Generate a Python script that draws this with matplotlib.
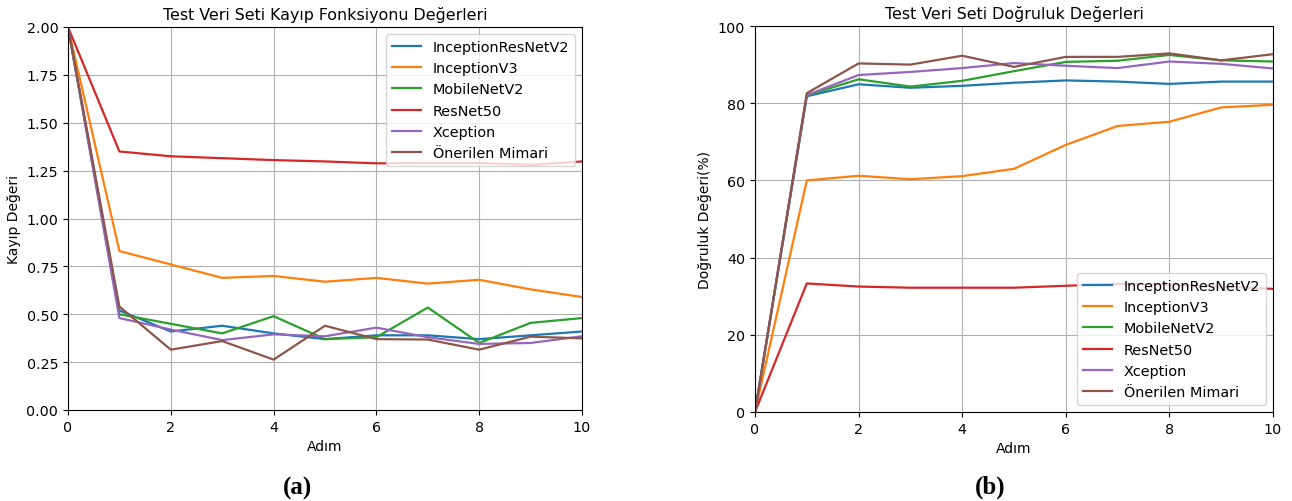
import matplotlib.pyplot as plt

steps = list(range(11))
models = ['InceptionResNetV2', 'InceptionV3', 'MobileNetV2', 'ResNet50', 'Xception', 'Önerilen Mimari']

# kayip (loss) degerleri
loss_incresnet = [2.0, 0.52, 0.41, 0.44, 0.40, 0.37, 0.39, 0.39, 0.37, 0.39, 0.41]
loss_incv3 = [2.0, 0.83, 0.76, 0.69, 0.70, 0.67, 0.69, 0.66, 0.68, 0.63, 0.59]
loss_mobilenet = [2.0, 0.50, 0.45, 0.40, 0.49, 0.37, 0.38, 0.535, 0.35, 0.455, 0.48]
loss_resnet = [2.0, 1.35, 1.325, 1.315, 1.305, 1.298, 1.288, 1.29, 1.29, 1.28, 1.298]
loss_xception = [2.0, 0.48, 0.42, 0.365, 0.395, 0.385, 0.43, 0.38, 0.345, 0.35, 0.385]
loss_onerilen = [2.0, 0.54, 0.315, 0.36, 0.263, 0.44, 0.37, 0.368, 0.315, 0.383, 0.374]

# dogruluk (accuracy) degerleri
acc_incresnet = [0, 81.8, 84.9, 84.0, 84.5, 85.3, 85.9, 85.6, 85.0, 85.6, 85.6]
acc_incv3 = [0, 60.0, 61.2, 60.3, 61.1, 63.0, 69.2, 74.1, 75.2, 78.9, 79.6]
acc_mobilenet = [0, 82.0, 86.2, 84.3, 85.8, 88.3, 90.7, 91.0, 92.5, 91.1, 90.8]
acc_resnet = [0, 33.3, 32.5, 32.2, 32.2, 32.2, 32.7, 33.2, 33.0, 32.5, 31.9]
acc_xception = [0, 82.1, 87.3, 88.1, 89.1, 90.4, 89.7, 89.1, 90.8, 90.2, 89.0]
acc_onerilen = [0, 82.6, 90.3, 90.0, 92.3, 89.4, 92.0, 92.0, 92.9, 91.1, 92.7]

losses = [loss_incresnet, loss_incv3, loss_mobilenet, loss_resnet, loss_xception, loss_onerilen]
accs = [acc_incresnet, acc_incv3, acc_mobilenet, acc_resnet, acc_xception, acc_onerilen]

fig = plt.figure(figsize=(12.92, 5.02), dpi=100)
ax1 = fig.add_axes([68/1292, 1 - 411/502, 514/1292, 383/502])
ax2 = fig.add_axes([755/1292, 1 - 413/502, 518/1292, 386/502])

for name, vals in zip(models, losses):
    ax1.plot(steps, vals, label=name, lw=1.6)
ax1.set_xlim(0, 10)
ax1.set_ylim(0, 2.0)
ax1.set_yticks([0, 0.25, 0.5, 0.75, 1.0, 1.25, 1.5, 1.75, 2.0])
ax1.grid(True)
ax1.set_title('Test Veri Seti Kayıp Fonksiyonu Değerleri', fontsize=11.4)
ax1.set_xlabel('Adım', fontsize=10)
ax1.set_ylabel('Kayıp Değeri', fontsize=10)
ax1.legend(loc='upper right', fontsize=10.4)

for name, vals in zip(models, accs):
    ax2.plot(steps, vals, label=name, lw=1.6)
ax2.set_xlim(0, 10)
ax2.set_ylim(0, 100)
ax2.grid(True)
ax2.set_title('Test Veri Seti Doğruluk Değerleri', fontsize=11.4)
ax2.set_xlabel('Adım', fontsize=10)
ax2.set_ylabel('Doğruluk Değeri(%)', fontsize=10)
ax2.legend(loc='lower right', fontsize=10.4)

for ax in (ax1, ax2):
    ax.tick_params(labelsize=10.3)

fig.text(297/1292, 1 - 488/502, '(a)', family='Liberation Serif', fontweight='bold',
         fontsize=18, ha='center', va='center')
fig.text(990/1292, 1 - 487/502, '(b)', family='Liberation Serif', fontweight='bold',
         fontsize=18, ha='center', va='center')

fig.savefig('out.png', dpi=100)
